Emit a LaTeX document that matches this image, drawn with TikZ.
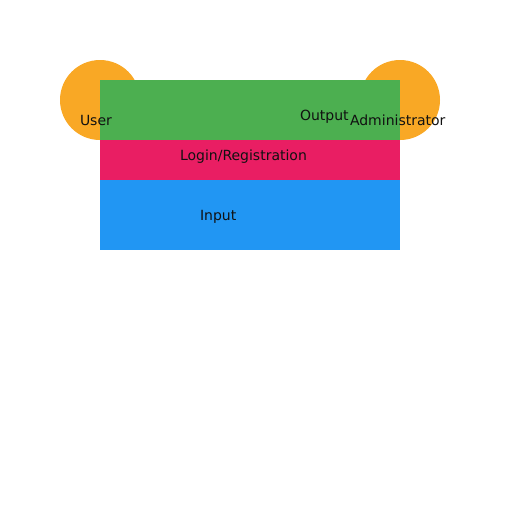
\documentclass[tikz,border=0pt]{standalone}
\usepackage{fontspec}
\setmainfont{DejaVu Sans}
\definecolor{cOrange}{HTML}{F9A825}
\definecolor{cGreen}{HTML}{4CAF50}
\definecolor{cPink}{HTML}{E91E63}
\definecolor{cBlue}{HTML}{2196F3}
\definecolor{cText}{HTML}{111111}
\tikzset{
  actor/.style={circle, fill=cOrange, draw=none, minimum size=80pt, inner sep=0pt},
  band/.style={rectangle, draw=none, inner sep=0pt, minimum width=300pt, anchor=north west},
  lbl/.style={anchor=base west, inner sep=0pt, outer sep=0pt, text=cText, font=\fontsize{14pt}{16pt}\selectfont}
}
\begin{document}
\begin{tikzpicture}[x=1pt,y=-1pt]
\useasboundingbox[fill=white] (0,0) rectangle (512,512);
\node[actor] (userc) at (100,100) {};
\node[actor] (adminc) at (400,100) {};
\node[band, fill=cGreen, minimum height=60pt] (output) at (100,80) {};
\node[band, fill=cPink, minimum height=40pt] (login) at (100,140) {};
\node[band, fill=cBlue, minimum height=70pt] (input) at (100,180) {};
\node[lbl] (userl) at (80,125) {User};
\node[lbl] (outl) at (300,120) {Output};
\node[lbl] (adminl) at (350,125) {Administrator};
\node[lbl] (loginl) at (180,160) {Login/Registration};
\node[lbl] (inputl) at (200,220) {Input};
\end{tikzpicture}
\end{document}
